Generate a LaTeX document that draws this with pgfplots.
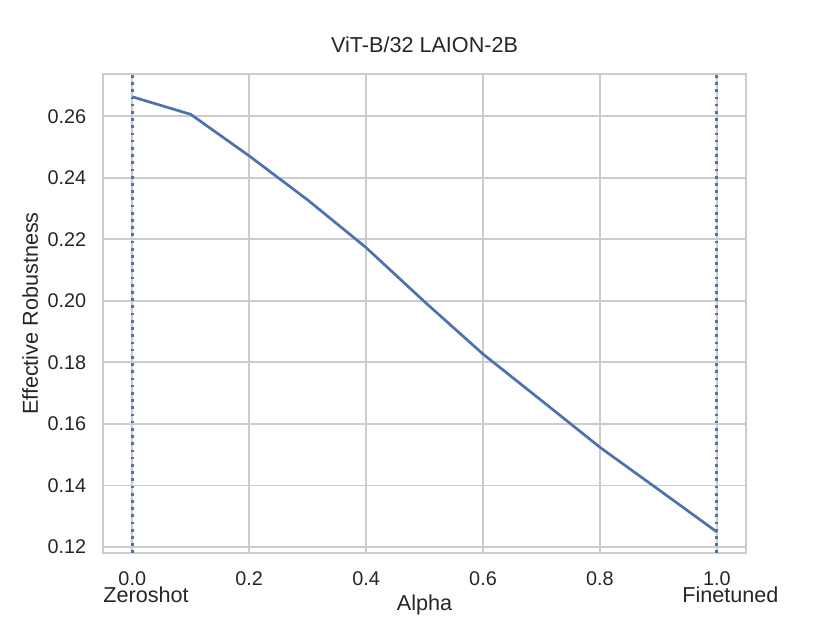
\documentclass[border=0pt]{standalone}
\usepackage{fontspec}
\setmainfont{Liberation Sans}
\usepackage{pgfplots}
\pgfplotsset{compat=1.18}
\definecolor{sbblue}{HTML}{4C72B0}
\definecolor{gridc}{HTML}{CCCCCC}
\definecolor{txt}{HTML}{262626}
\begin{document}
\begin{tikzpicture}
\useasboundingbox (-57.2pt,-38.9pt) rectangle (403.6pt,307.1pt);
\begin{axis}[
  at={(0,0)}, anchor=south west,
  scale only axis, width=357pt, height=266pt,
  xmin=-0.05, xmax=1.05, ymin=0.118, ymax=0.2737,
  xtick={0,0.2,0.4,0.6,0.8,1.0},
  xticklabels={0.0,0.2,0.4,0.6,0.8,1.0},
  ytick={0.12,0.14,0.16,0.18,0.20,0.22,0.24,0.26},
  yticklabels={0.12,0.14,0.16,0.18,0.20,0.22,0.24,0.26},
  major tick length=0pt,
  grid=major,
  major grid style={gridc, line width=1pt},
  axis line style={gridc, line width=1.25pt},
  tick label style={font=\fontsize{11}{13}\selectfont, text=txt},
  xticklabel style={anchor=base, yshift=-17.8pt},
  yticklabel style={anchor=east, xshift=-5.8pt},
  title={ViT-B/32 LAION-2B},
  title style={font=\fontsize{12}{14}\selectfont, text=txt, anchor=base, at={(axis description cs:0.5,1)}, yshift=5.9pt},
  xlabel={Alpha},
  xlabel style={font=\fontsize{12}{14}\selectfont, text=txt, at={(axis description cs:0.5,-0.1086)}, anchor=center},
  ylabel={Effective Robustness},
  ylabel style={font=\fontsize{12}{14}\selectfont, text=txt, at={(axis description cs:-0.1135,0.5)}, anchor=center},
  clip=false,
]
\addplot[sbblue, line width=1.5pt] coordinates {
  (0.0,0.2663) (0.1,0.2606) (0.2,0.2471) (0.3,0.2328) (0.4,0.2173)
  (0.5,0.1997) (0.6,0.1827) (0.7,0.1676) (0.8,0.1524) (0.9,0.1387) (1.0,0.1249)
};
\addplot[sbblue, line width=1.5pt, dash pattern=on 1.5pt off 2.5pt] coordinates {(0,0.118) (0,0.2737)};
\addplot[sbblue, line width=1.5pt, dash pattern=on 1.5pt off 2.5pt] coordinates {(1,0.118) (1,0.2737)};
\end{axis}
\node[font=\fontsize{12}{14}\selectfont, text=txt, anchor=base] at (23.9pt,-27.6pt) {Zeroshot};
\node[font=\fontsize{12}{14}\selectfont, text=txt, anchor=base] at (348.3pt,-27.6pt) {Finetuned};
\end{tikzpicture}
\end{document}
